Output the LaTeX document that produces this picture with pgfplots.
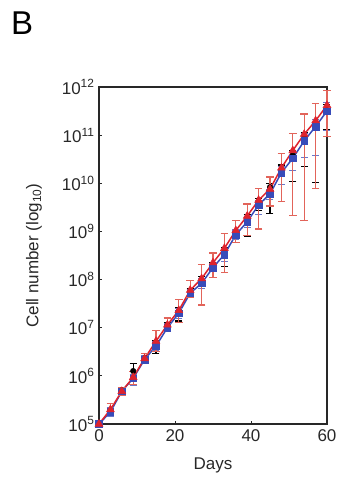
\documentclass[border=0pt]{standalone}
\usepackage{pgfplots}
\pgfplotsset{compat=1.18}
\usepackage{pgfplotstable}
\usepackage{fontspec}
\setmainfont{Liberation Sans}
\definecolor{myred}{RGB}{222,35,45}
\definecolor{myredbar}{RGB}{226,100,90}
\definecolor{myblue}{RGB}{55,75,185}
\definecolor{axgray}{RGB}{40,40,40}

\pgfplotstableread{
x  r     rp    rm    b     bp    bm    k     kp    km
0  5.00  0.05  0.05  5.00  0.04  0.04  5.00  0.03  0.03
3  5.30  0.12  0.12  5.25  0.10  0.10  5.28  0.06  0.06
6  5.68  0.08  0.08  5.68  0.06  0.06  5.70  0.05  0.05
9  5.97  0.12  0.15  5.95  0.08  0.15  6.10  0.15  0.10
12 6.36  0.10  0.10  6.34  0.08  0.08  6.37  0.06  0.06
15 6.72  0.22  0.22  6.62  0.10  0.10  6.65  0.08  0.18
18 7.06  0.14  0.14  7.00  0.08  0.08  7.05  0.06  0.06
21 7.36  0.22  0.25  7.30  0.10  0.10  7.34  0.08  0.20
24 7.78  0.20  0.15  7.72  0.08  0.08  7.75  0.06  0.06
27 8.02  0.30  0.55  7.92  0.10  0.10  7.98  0.08  0.08
30 8.35  0.20  0.30  8.25  0.08  0.08  8.30  0.06  0.06
33 8.65  0.30  0.50  8.52  0.10  0.15  8.58  0.08  0.30
36 9.02  0.20  0.25  8.93  0.10  0.10  8.95  0.08  0.08
39 9.32  0.25  0.40  9.20  0.10  0.12  9.25  0.10  0.35
42 9.65  0.25  0.60  9.55  0.10  0.20  9.58  0.10  0.15
45 9.88  0.25  0.35  9.78  0.10  0.12  9.92  0.08  0.55
48 10.32 0.30  0.70  10.22 0.12  0.25  10.28 0.10  0.30
51 10.68 0.35  1.35  10.52 0.12  0.25  10.58 0.10  0.55
54 11.02 0.42  1.80  10.88 0.15  0.35  10.95 0.10  0.60
57 11.30 0.35  1.40  11.18 0.15  0.60  11.22 0.10  1.20
60 11.62 0.30  0.65  11.50 0.18  0.40  11.52 0.12  0.40
}\data

\begin{document}
\begin{tikzpicture}
\path[use as bounding box] (-99pt,-53pt) rectangle (241pt,424pt);
\node[font=\fontsize{33}{36}\selectfont, anchor=north west, inner sep=0pt] at (-88pt,412pt) {B};
\begin{axis}[
  at={(0,0)}, anchor=south west,
  scale only axis, width=228pt, height=337pt,
  xmin=0, xmax=60, ymin=5, ymax=12,
  xtick={0,20,40,60},
  ytick={5,6,7,8,9,10,11,12},
  yticklabels={10\textsuperscript{5},10\textsuperscript{6},10\textsuperscript{7},10\textsuperscript{8},10\textsuperscript{9},10\textsuperscript{10},10\textsuperscript{11},10\textsuperscript{12}},
  /pgf/number format/assume math mode=true,
  tick pos=left, tick align=inside,
  major tick length=3pt,
  tick style={axgray, line width=0.8pt},
  axis line style={axgray, line width=1.8pt},
  ticklabel style={font=\fontsize{17}{19}\selectfont, text=axgray},
  xticklabel style={yshift=-2pt},
  yticklabel style={xshift=-1pt},
  xlabel={Days},
  ylabel={Cell number (log\textsubscript{10})},
  label style={font=\fontsize{17}{19}\selectfont, text=axgray},
  xlabel style={at={(axis description cs:0.5,-0.122)}, anchor=center},
  ylabel style={at={(axis description cs:-0.285,0.5)}, anchor=center},
  clip=false,
]
% black series
\addplot[black, only marks, mark=*, mark size=2.8pt,
  error bars/.cd, y dir=both, y explicit, error mark=|,
  error bar style={black, line width=1.1pt},
  error mark options={black, mark size=3.5pt, line width=1.1pt}]
  table[x=x, y=k, y error plus=kp, y error minus=km]{\data};
% blue series
\addplot[myblue, line width=1.5pt, mark=square*, mark size=3.3pt,
  mark options={fill=myblue, draw=myblue, line width=0.5pt},
  error bars/.cd, y dir=both, y explicit, error mark=|,
  error bar style={myblue!75, line width=1.1pt},
  error mark options={myblue!75, mark size=3.5pt, line width=1.1pt}]
  table[x=x, y=b, y error plus=bp, y error minus=bm]{\data};
% red series
\addplot[myred, line width=1.5pt, mark=triangle*, mark size=4.5pt,
  mark options={fill=myred, draw=myred, line width=0.5pt},
  error bars/.cd, y dir=both, y explicit, error mark=|,
  error bar style={myredbar, line width=1.2pt},
  error mark options={myredbar, mark size=3.8pt, line width=1.2pt}]
  table[x=x, y=r, y error plus=rp, y error minus=rm]{\data};
\end{axis}
\end{tikzpicture}
\end{document}
